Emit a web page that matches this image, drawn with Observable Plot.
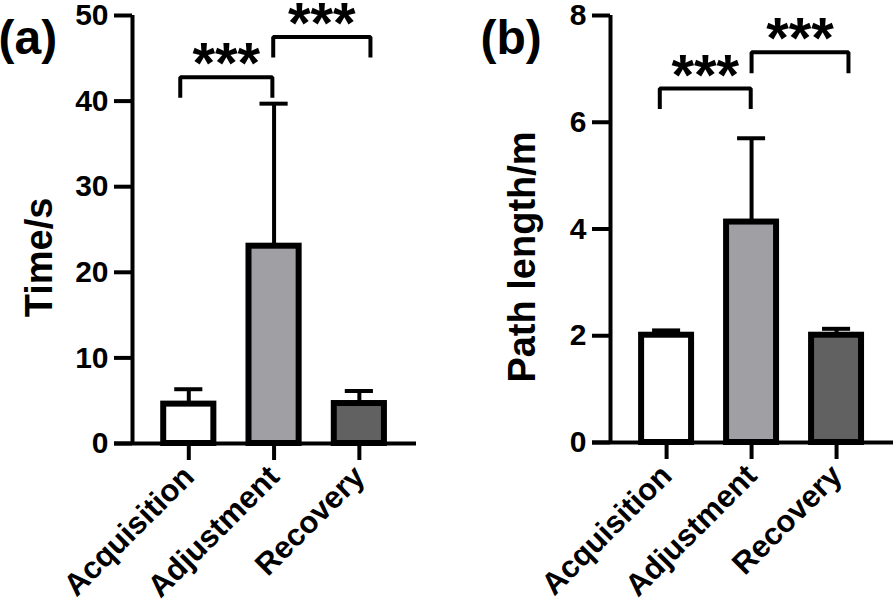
<!DOCTYPE html>
<html><head><meta charset="utf-8">
<script src="https://cdn.jsdelivr.net/npm/d3@7"></script>
<script src="https://cdn.jsdelivr.net/npm/@observablehq/plot@0.6"></script>
<style>
body{margin:0;background:#fff;}
#wrap{display:flex;width:895px;height:604px;overflow:hidden;}
svg{font-family:"Liberation Sans",Arial,sans-serif;}
</style></head><body><div id="wrap"></div>
<script>
// ---- data ----
const categories = ["Acquisition", "Adjustment", "Recovery"];
const barFills = ["#ffffff", "#a09fa4", "#616161"];

// Panel (a): Time/s
const timeMean = [4.6, 23.05, 4.67];
const timeSD = [1.74, 16.65, 1.46];
const timeTicks = [0, 10, 20, 30, 40, 50];
const timeBrackets = [
  {from: -0.1, to: 0.98, y: 42.8, leg: 40.4, label: "***"},
  {from: 0.99, to: 2.13, y: 47.5, leg: 45.1, label: "***"}
];

// Panel (b): Path length/m
const pathMean = [2.01, 4.13, 2.01];
const pathSD = [0.09, 1.57, 0.12];
const pathTicks = [0, 2, 4, 6, 8];
const pathBrackets = [
  {from: -0.08, to: 0.99, y: 6.63, leg: 6.25, label: "***"},
  {from: 1.0, to: 2.14, y: 7.31, leg: 6.92, label: "***"}
];

// ---- styling constants ----
const XDOMAIN = [-0.66, 2.67];
const HALF = 0.294;   // half bar width (x units)
const CAP = 0.165;    // half error-cap width (x units)
const FONT = "Liberation Sans, Arial, sans-serif";

function panel(o) {
  const ymax = o.ticks[o.ticks.length - 1];
  const rows = categories.map((c, i) => ({c, i, mean: o.means[i], hi: o.means[i] + o.sds[i], fill: barFills[i]}));
  const pts = o.brackets.flatMap((b, k) => [
    {k, x: b.from, y: b.leg}, {k, x: b.from, y: b.y}, {k, x: b.to, y: b.y}, {k, x: b.to, y: b.leg}
  ]);
  return Plot.plot({
    width: o.width, height: 604,
    marginTop: 15, marginBottom: o.marginBottom, marginLeft: o.marginLeft, marginRight: o.marginRight,
    x: {type: "linear", domain: XDOMAIN},
    y: {domain: [0, ymax]},
    color: {type: "identity"},
    style: {fontFamily: FONT, color: "black", background: "white", overflow: "visible"},
    marks: [
      Plot.ruleX(rows, {x: "i", y1: "mean", y2: "hi", stroke: "black", strokeWidth: 4}),
      Plot.ruleY(rows, {y: "hi", x1: d => d.i - CAP, x2: d => d.i + CAP, stroke: "black", strokeWidth: 4}),
      Plot.rectY(rows, {x1: d => d.i - HALF, x2: d => d.i + HALF, y1: 0, y2: "mean", fill: "fill", stroke: "black", strokeWidth: 6}),
      // y ticks and labels
      Plot.ruleY(o.ticks, {y: d => d, x1: XDOMAIN[0], x2: XDOMAIN[0], insetLeft: -18, stroke: "black", strokeWidth: 4}),
      Plot.axisY({ticks: o.ticks, tickSize: 0, tickPadding: 24, fontSize: 30, fontWeight: "bold", label: null}),
      // x ticks and labels
      Plot.ruleX([0, 1, 2], {x: d => d, y1: 0, y2: 0, insetBottom: -17, stroke: "black", strokeWidth: 4}),
      Plot.axisX({ticks: [0, 1, 2], tickFormat: i => categories[i], tickSize: 0, tickPadding: 28, tickRotate: -45,
                  fontSize: 31, fontWeight: "bold", label: null}),
      // axis lines
      Plot.ruleX([XDOMAIN[0]], {x: d => d, y1: 0, y2: ymax, stroke: "black", strokeWidth: 4}),
      Plot.ruleY([0], {stroke: "black", strokeWidth: 4, insetLeft: -18}),
      // significance brackets
      Plot.line(pts, {x: "x", y: "y", z: "k", stroke: "black", strokeWidth: 4, strokeLinejoin: "miter", strokeLinecap: "butt"}),
      Plot.text(o.brackets, {x: b => (b.from + b.to) / 2, y: "y", text: "label", fontSize: 58, fontWeight: "bold",
                              lineAnchor: "bottom", dy: 6, fill: "black"}),
      // y label and panel tag
      Plot.text([o.yLabel], {frameAnchor: "left", rotate: -90, lineAnchor: "top", textAnchor: "middle",
                             dx: o.labelDx, dy: 28, fontSize: 38, fontWeight: "bold", fill: "black"}),
      Plot.text([o.tag], {frameAnchor: "top-left", textAnchor: "start", lineAnchor: "bottom",
                          dx: o.tagDx, dy: 38, fontSize: 48, fontWeight: "bold", fill: "black"})
    ]
  });
}

const wrap = document.getElementById("wrap");
wrap.append(panel({
  width: 447, marginLeft: 132, marginRight: 31, marginBottom: 161,
  means: timeMean, sds: timeSD, ticks: timeTicks, brackets: timeBrackets,
  yLabel: "Time/s", tag: "(a)", tagDx: -134, labelDx: -107
}));
wrap.append(panel({
  width: 448, marginLeft: 163, marginRight: 2, marginBottom: 162,
  means: pathMean, sds: pathSD, ticks: pathTicks, brackets: pathBrackets,
  yLabel: "Path length/m", tag: "(b)", tagDx: -130, labelDx: -102
}));
</script></body></html>
